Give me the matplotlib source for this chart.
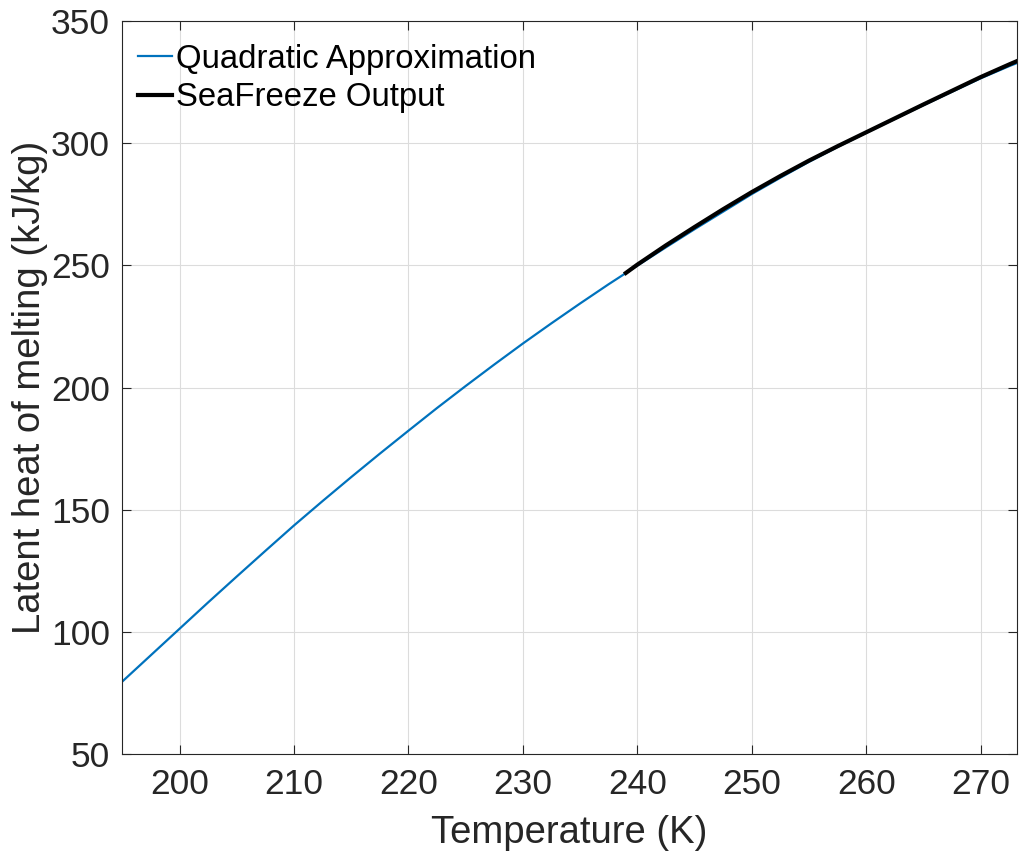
import matplotlib
matplotlib.use("Agg")
import matplotlib.pyplot as plt

### Values

# quadratic approximation (blue), temperature in K, latent heat in kJ/kg
T_QUAD = [195, 197.5, 200, 202.5, 205, 207.5, 210, 212.5, 215, 217.5, 220, 222.5, 225, 227.5,
          230, 232.5, 235, 237.5, 240, 242.5, 245, 247.5, 250, 252.5, 255, 257.5, 260, 262.5,
          265, 267.5, 270, 272.5, 273.15]
L_QUAD = [79.6, 90.4, 101.2, 112.0, 122.6, 133.1, 143.5, 153.5, 163.3, 172.9, 182.3, 191.6, 200.6, 209.4,
          218.0, 226.3, 234.4, 242.3, 249.9, 257.4, 264.8, 272.0, 279.2, 285.9, 292.4, 298.5, 304.3, 310.0,
          315.6, 321.1, 326.6, 331.6, 332.8]

# SeaFreeze output (black)
T_SF = [239.0, 240, 242.5, 245, 247.5, 250, 252.5, 255, 257.5, 260, 262.5, 265, 267.5, 270, 272.5, 273.15]
L_SF = [246.9, 250.3, 258.2, 265.7, 273.0, 280.0, 286.6, 292.9, 298.8, 304.5, 310.2, 315.9, 321.5, 327.1, 332.3, 333.6]

XTICKS = [200, 210, 220, 230, 240, 250, 260, 270]
YTICKS = [50, 100, 150, 200, 250, 300, 350]

TXT = "#262626"

plt.rcParams["font.family"] = ["Liberation Sans", "DejaVu Sans"]

fig = plt.figure(figsize=(10.19, 8.58), dpi=100)
ax = fig.add_axes([0.120, 0.1214, 0.8777, 0.8539])

ax.plot(T_QUAD, L_QUAD, color="#0072BD", lw=1.6, label="Quadratic Approximation")
ax.plot(T_SF, L_SF, color="black", lw=3.0, label="SeaFreeze Output")

ax.set_xlim(195, 273.15)
ax.set_ylim(50, 350)
ax.set_xticks(XTICKS)
ax.set_yticks(YTICKS)

ax.grid(True, color="#dcdcdc", lw=0.8)
ax.set_axisbelow(True)
ax.tick_params(direction="in", length=6.5, width=0.8, colors=TXT, labelsize=25.5,
               top=True, right=True)
ax.tick_params(axis="x", pad=10)
ax.tick_params(axis="y", pad=9)
for s in ax.spines.values():
    s.set_color(TXT)
    s.set_linewidth(0.8)

ax.set_xlabel("Temperature (K)", fontsize=27.5, color=TXT, labelpad=10)
ax.set_ylabel("Latent heat of melting (kJ/kg)", fontsize=27.5, color=TXT, labelpad=2)

leg = ax.legend(loc="upper left", bbox_to_anchor=(0.0065, 0.983), fontsize=23.7,
                frameon=False, handlelength=1.03, handletextpad=0.12, labelspacing=0.24,
                borderaxespad=0.1, borderpad=0.2)
for t in leg.get_texts():
    t.set_color("black")

fig.savefig("out.png", dpi=100)
